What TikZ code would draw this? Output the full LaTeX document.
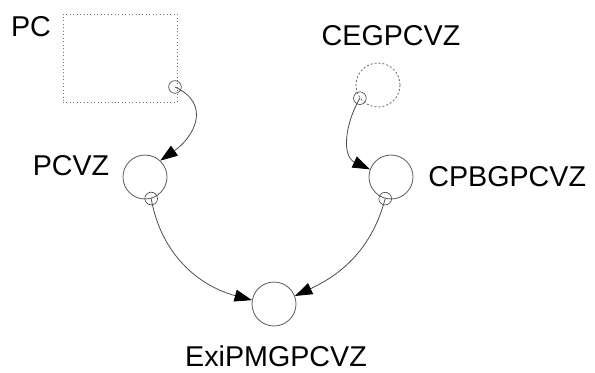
\documentclass[tikz,border=0pt]{standalone}
\usepackage{fontspec}
\setmainfont{Liberation Sans}
\usepackage{tikz}
\usetikzlibrary{arrows.meta, positioning}
\tikzstyle{place}=[circle, draw=black!65, line width=0.6pt, minimum size=33pt, inner sep=0pt]
\tikzstyle{ghost}=[circle, draw=black!60, dashed, dash pattern=on 1.5pt off 1.5pt, line width=0.6pt, minimum size=33pt, inner sep=0pt]
\tikzstyle{pcbox}=[rectangle, draw=black!55, dotted, line width=0.6pt, minimum width=85.5pt, minimum height=66pt, inner sep=0pt]
\tikzstyle{port}=[circle, draw=black!70, line width=0.5pt, minimum size=9.5pt, inner sep=0pt]
\tikzstyle{lbl}=[inner sep=0pt, font=\fontsize{21.5}{26}\selectfont]
\tikzstyle{post}=[-{Triangle[length=13pt,width=9pt,color=black,fill=black]}, draw=black!70, line width=0.6pt]

\begin{document}
\begin{tikzpicture}[x=0.75pt, y=0.75pt]
  \useasboundingbox (0,0) rectangle (595,372);
  % boxes
  \node[pcbox] (pc) at (120,314) {};
  \node[ghost] (ceg) at (378,287) {};
  \node[place] (pcvz) at (145,195) {};
  \node[place] (cpbg) at (391,195) {};
  \node[place] (exi) at (274,68) {};
  % labels
  \node[lbl] (pclbl) at (31,345) {PC};
  \node[lbl] (ceglbl) at (391,336) {CEGPCVZ};
  \node[lbl] (pcvzlbl) at (71,206) {PCVZ};
  \node[lbl] (cpbglbl) [right=11pt of cpbg] {CPBGPCVZ};
  \node[lbl] (exilbl) at (276,16) {ExiPMGPCVZ};
  % ports
  \node[port] (pcport) at (175,285) {};
  \node[port] (cegport) at (ceg.216) {};
  \node[port] (pcvzport) at (pcvz.-74) {};
  \node[port] (cpbgport) at (cpbg.-105) {};
  % links
  \draw[post] (pcport.center) to[out=-25, in=35, looseness=1.4] (pcvz.47);
  \draw[post] (cegport.center) to[out=-120, in=155, looseness=1.1] (cpbg.160);
  \draw[post] (pcvzport.center) to[out=-80, in=165] (exi.170);
  \draw[post] (cpbgport.center) to[out=-105, in=25] (exi.21);
\end{tikzpicture}
\end{document}
